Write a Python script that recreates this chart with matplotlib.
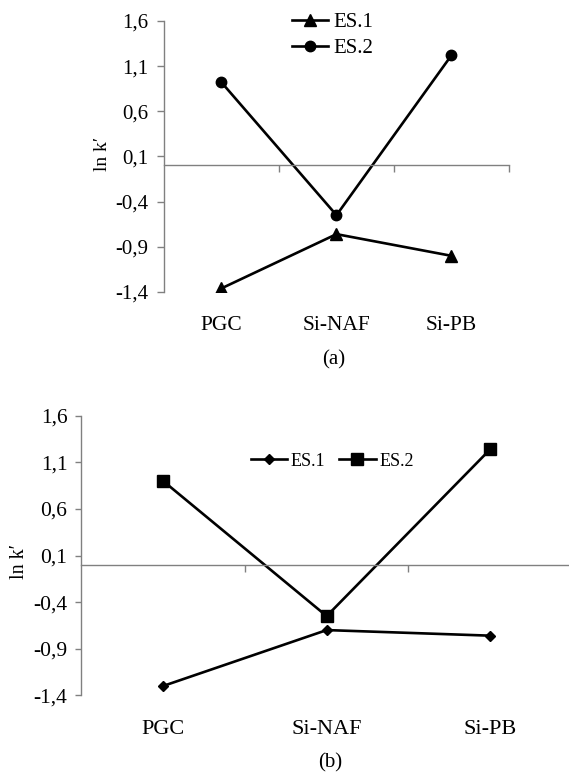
import matplotlib
matplotlib.use("Agg")
import matplotlib.pyplot as plt
from matplotlib.ticker import FixedLocator, FuncFormatter

plt.rcParams["font.family"] = ["Liberation Serif", "DejaVu Serif"]

categories = ["PGC", "Si-NAF", "Si-PB"]
series_names = ["ES.1", "ES.2"]

# panel (a)
a_es1 = [-1.36, -0.76, -1.00]
a_es2 = [0.92, -0.55, 1.22]
# panel (b)
b_es1 = [-1.30, -0.70, -0.76]
b_es2 = [0.90, -0.55, 1.24]

y_ticks = [-1.4, -0.9, -0.4, 0.1, 0.6, 1.1, 1.6]

SPINE = "#808080"


def style_axes(ax, fs, tick_len):
    x = range(len(categories))
    ax.set_xlim(-0.5, len(categories) - 0.5)
    ax.set_ylim(-1.4, 1.6)
    for s in ("top", "right"):
        ax.spines[s].set_visible(False)
    ax.spines["left"].set_color(SPINE)
    ax.spines["bottom"].set_color(SPINE)
    ax.spines["bottom"].set_position(("data", 0))
    ax.spines["left"].set_linewidth(1.0)
    ax.spines["bottom"].set_linewidth(1.0)

    ax.yaxis.set_major_locator(FixedLocator(y_ticks))
    ax.yaxis.set_major_formatter(
        FuncFormatter(lambda v, p: f"{v:.1f}".replace(".", ",").replace("\u2212", "-")))
    ax.tick_params(axis="y", direction="out", length=tick_len, width=1.0,
                   color=SPINE, labelsize=fs, pad=6)

    # category boundaries get the tick marks, labels sit below the plot
    ax.xaxis.set_major_locator(FixedLocator([0.5, 1.5, 2.5]))
    ax.tick_params(axis="x", direction="out", length=5, width=1.0,
                   color=SPINE, labelbottom=False)
    for i, c in zip(x, categories):
        ax.text(i, -0.123, c, transform=ax.get_xaxis_transform(),
                ha="center", va="center", fontsize=fs + 0.5)


fig = plt.figure(figsize=(5.69, 7.73), dpi=100)

# ---- (a)
ax1 = fig.add_axes([0.2882, 0.6223, 0.6063, 0.3506])
xs = range(len(categories))
ax1.plot(xs, a_es1, "k-", lw=1.9, marker="^", ms=8, label=series_names[0])
ax1.plot(xs, a_es2, "k-", lw=1.9, marker="o", ms=7.5, label=series_names[1])
style_axes(ax1, 15, 5)
ax1.set_ylabel("ln k\u2032", fontsize=14, va="center")
ax1.yaxis.set_label_coords(-0.178, 0.51)
ax1.legend(loc="center left", bbox_to_anchor=(0.37, 0.946), frameon=False,
           fontsize=15, handlelength=1.76, handletextpad=0.23,
           labelspacing=0.3, borderpad=0, borderaxespad=0)
fig.text(0.587, 0.5343, "(a)", ha="center", va="center", fontsize=15)

# ---- (b)
ax2 = fig.add_axes([0.1429, 0.1005, 0.8624, 0.3617])
ax2.plot(xs, b_es1, "k-", lw=1.9, marker="D", ms=5.5, label=series_names[0])
ax2.plot(xs, b_es2, "k-", lw=1.9, marker="s", ms=8, label=series_names[1])
style_axes(ax2, 15.5, 4)
ax2.set_ylabel("ln k\u2032", fontsize=14.5, va="center")
ax2.yaxis.set_label_coords(-0.125, 0.48)
ax2.legend(loc="center left", bbox_to_anchor=(0.345, 0.838), frameon=False,
           fontsize=13, ncol=2, handlelength=2.0, handletextpad=0.2,
           columnspacing=0.8, borderpad=0, borderaxespad=0)
fig.text(0.580, 0.0129, "(b)", ha="center", va="center", fontsize=15)

fig.savefig("out.png", dpi=100)
